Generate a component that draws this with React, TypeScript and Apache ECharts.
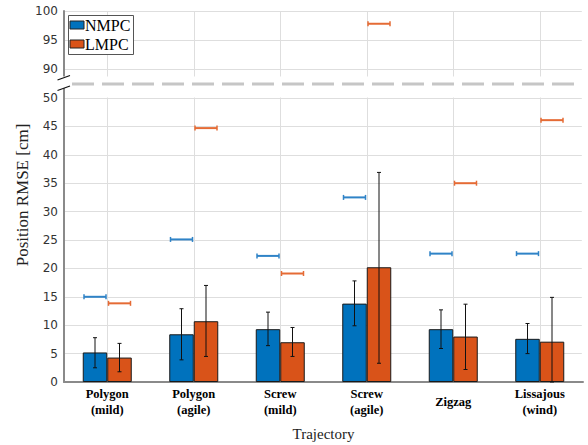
import React, { useEffect, useRef } from "react";
import * as echarts from "echarts";

const categories = ["Polygon\n(mild)", "Polygon\n(agile)", "Screw\n(mild)", "Screw\n(agile)", "Zigzag", "Lissajous\n(wind)"];
const nmpcMean = [5.2, 8.4, 9.3, 13.8, 9.3, 7.6];
const nmpcErrLow = [2.5, 3.9, 6.4, 9.9, 5.9, 5.0];
const nmpcErrHigh = [7.8, 12.9, 12.3, 17.8, 12.7, 10.3];
const lmpcMean = [4.3, 10.7, 7.0, 20.2, 8.0, 7.1];
const lmpcErrLow = [1.8, 4.5, 4.5, 3.3, 2.2, 0];
const lmpcErrHigh = [6.8, 17.0, 9.6, 36.9, 13.7, 14.9];
const nmpcMax = [15.0, 25.1, 22.2, 32.5, 22.6, 22.6];
const lmpcMax = [13.85, 44.7, 19.1, 97.8, 35.0, 46.1];
const lowerTicksMax = 50;
const upperTicksMin = 85;
const upperTicksMax = 100;

const BLUE = "#0072BD";
const ORANGE = "#D95319";
const BLUE_M = "#2f83c7";
const ORANGE_M = "#e56b35";
const BAR_W = 24.5;
const GRID_C = "#dedede";
const AXIS_C = "#8a8a8a";

const errRender = (sign: number) => (params: any, api: any) => {
  const cat = api.value(0);
  const lo = api.coord([cat, api.value(1)]);
  const hi = api.coord([cat, api.value(2)]);
  const x = lo[0] + (sign * BAR_W) / 2;
  const c = 2;
  const st = { stroke: "#111", lineWidth: 1 };
  return {
    type: "group",
    children: [
      { type: "line", shape: { x1: x, y1: lo[1], x2: x, y2: hi[1] }, style: st },
      { type: "line", shape: { x1: x - c, y1: lo[1], x2: x + c, y2: lo[1] }, style: st },
      { type: "line", shape: { x1: x - c, y1: hi[1], x2: x + c, y2: hi[1] }, style: st },
    ],
  };
};

const markRender = (sign: number, color: string) => (params: any, api: any) => {
  const cat = api.value(0);
  const p = api.coord([cat, api.value(1)]);
  const x = p[0] + (sign * BAR_W) / 2;
  const h = 11;
  const st = { stroke: color, lineWidth: 2 };
  return {
    type: "group",
    children: [
      { type: "line", shape: { x1: x - h, y1: p[1], x2: x + h, y2: p[1] }, style: st },
      { type: "line", shape: { x1: x - h, y1: p[1] - 2.5, x2: x - h, y2: p[1] + 2.5 }, style: { stroke: color, lineWidth: 1.5 } },
      { type: "line", shape: { x1: x + h, y1: p[1] - 2.5, x2: x + h, y2: p[1] + 2.5 }, style: { stroke: color, lineWidth: 1.5 } },
    ],
  };
};

export default function App() {
  const ref = useRef<HTMLDivElement>(null);
  useEffect(() => {
    if (!ref.current) return;
    const chart = echarts.init(ref.current, null, { renderer: "svg" });
    const tickLabel = { fontFamily: "DejaVu Sans", fontSize: 12, color: "#333" };
    const xBase = {
      type: "category" as const,
      data: categories,
      boundaryGap: true,
      axisTick: { show: false },
      splitLine: { show: true, alignWithLabel: true, interval: 0, lineStyle: { color: GRID_C, width: 1 } },
    };
    const idx = categories.map((_, i) => i);
    const option: any = {
      animation: false,
      grid: [
        { left: 64, width: 519, top: 11, height: 87, outerBoundsMode: "none", containLabel: false },
        { left: 64, width: 519, top: 98, height: 284, outerBoundsMode: "none", containLabel: false },
      ],
      xAxis: [
        { ...xBase, gridIndex: 0, axisLine: { show: false }, axisLabel: { show: false } },
        {
          ...xBase,
          gridIndex: 1,
          axisLine: { show: true, lineStyle: { color: AXIS_C, width: 2 } },
          axisLabel: {
            interval: 0,
            fontFamily: "Liberation Serif",
            fontWeight: "bold",
            fontSize: 12.5,
            lineHeight: 16,
            color: "#000",
            verticalAlign: "middle",
            margin: 20,
          },
          name: "Trajectory",
          nameLocation: "middle",
          nameGap: 44,
          nameTextStyle: { fontFamily: "Liberation Serif", fontSize: 15, color: "#222" },
        },
      ],
      yAxis: [
        {
          type: "value",
          gridIndex: 0,
          min: upperTicksMin,
          max: upperTicksMax,
          interval: 5,
          axisLine: { show: true, lineStyle: { color: AXIS_C, width: 2 } },
          axisTick: { show: false },
          axisLabel: { ...tickLabel, margin: 6, formatter: (v: number) => (v === upperTicksMin ? "" : String(v)) },
          splitLine: { show: true, lineStyle: { color: GRID_C, width: 1 } },
        },
        {
          type: "value",
          gridIndex: 1,
          min: 0,
          max: lowerTicksMax,
          interval: 5,
          axisLine: { show: true, lineStyle: { color: AXIS_C, width: 2 } },
          axisTick: { show: false },
          axisLabel: { ...tickLabel, margin: 6 },
          splitLine: { show: true, lineStyle: { color: GRID_C, width: 1 } },
        },
      ],
      series: [
        {
          name: "NMPC",
          type: "bar",
          xAxisIndex: 1,
          yAxisIndex: 1,
          data: nmpcMean,
          barWidth: BAR_W,
          barGap: "0%",
          itemStyle: { color: BLUE, borderColor: "#1a1a1a", borderWidth: 1 },
        },
        {
          name: "LMPC",
          type: "bar",
          xAxisIndex: 1,
          yAxisIndex: 1,
          data: lmpcMean,
          barWidth: BAR_W,
          barGap: "0%",
          itemStyle: { color: ORANGE, borderColor: "#1a1a1a", borderWidth: 1 },
        },
        {
          type: "custom",
          xAxisIndex: 1,
          yAxisIndex: 1,
          z: 5,
          renderItem: errRender(-1),
          encode: { x: 0, y: [1, 2] },
          data: idx.map((i) => [i, nmpcErrLow[i], nmpcErrHigh[i]]),
        },
        {
          type: "custom",
          xAxisIndex: 1,
          yAxisIndex: 1,
          z: 5,
          renderItem: errRender(1),
          encode: { x: 0, y: [1, 2] },
          data: idx.map((i) => [i, lmpcErrLow[i], lmpcErrHigh[i]]),
        },
        {
          type: "custom",
          xAxisIndex: 1,
          yAxisIndex: 1,
          z: 5,
          renderItem: markRender(-1, BLUE_M),
          encode: { x: 0, y: 1 },
          data: idx.filter((i) => nmpcMax[i] <= lowerTicksMax).map((i) => [i, nmpcMax[i]]),
        },
        {
          type: "custom",
          xAxisIndex: 1,
          yAxisIndex: 1,
          z: 5,
          renderItem: markRender(1, ORANGE_M),
          encode: { x: 0, y: 1 },
          data: idx.filter((i) => lmpcMax[i] <= lowerTicksMax).map((i) => [i, lmpcMax[i]]),
        },
        {
          type: "custom",
          xAxisIndex: 0,
          yAxisIndex: 0,
          z: 5,
          renderItem: markRender(1, ORANGE_M),
          encode: { x: 0, y: 1 },
          data: idx.filter((i) => lmpcMax[i] > lowerTicksMax).map((i) => [i, lmpcMax[i]]),
        },
      ],
      graphic: [
        { type: "rect", z: 100, shape: { x: 62, y: 76.5, width: 526, height: 21 }, style: { fill: "#fff" } },
        { type: "rect", z: 100, shape: { x: 581.8, y: 9, width: 6, height: 372 }, style: { fill: "#fff" } },
        { type: "line", z: 101, shape: { x1: 64, y1: 88, x2: 64, y2: 98 }, style: { stroke: AXIS_C, lineWidth: 2 } },
        { type: "line", z: 101, shape: { x1: 57.5, y1: 80, x2: 70, y2: 75.5 }, style: { stroke: "#111", lineWidth: 1.2 } },
        { type: "line", z: 101, shape: { x1: 57.5, y1: 90.5, x2: 70, y2: 86 }, style: { stroke: "#111", lineWidth: 1.2 } },
        { type: "line", z: 101, shape: { x1: 72, y1: 84, x2: 578, y2: 84 }, style: { stroke: "#c6c6c6", lineWidth: 3, lineDash: [22, 8] } },
        { type: "rect", z: 102, shape: { x: 68.5, y: 15.5, width: 65, height: 39 }, style: { fill: "#fff", stroke: "#555", lineWidth: 1 } },
        { type: "rect", z: 103, shape: { x: 70, y: 21, width: 14, height: 8 }, style: { fill: BLUE, stroke: "#222", lineWidth: 1 } },
        { type: "rect", z: 103, shape: { x: 70, y: 40, width: 14, height: 8 }, style: { fill: ORANGE, stroke: "#222", lineWidth: 1 } },
        { type: "text", z: 103, x: 85, y: 25.5, style: { text: "NMPC", font: "16px 'Liberation Serif'", fill: "#000", textVerticalAlign: "middle" } },
        { type: "text", z: 103, x: 85, y: 44.5, style: { text: "LMPC", font: "16px 'Liberation Serif'", fill: "#000", textVerticalAlign: "middle" } },
        {
          type: "text",
          z: 103,
          x: 22,
          y: 195,
          rotation: Math.PI / 2,
          style: { text: "Position RMSE [cm]", font: "17px 'Liberation Serif'", fill: "#222", textAlign: "center", textVerticalAlign: "middle" },
        },
      ],
    };
    chart.setOption(option);
    return () => chart.dispose();
  }, []);
  return <div ref={ref} style={{ width: 588, height: 445, position: "absolute", left: 0, top: 0 }} />;
}
